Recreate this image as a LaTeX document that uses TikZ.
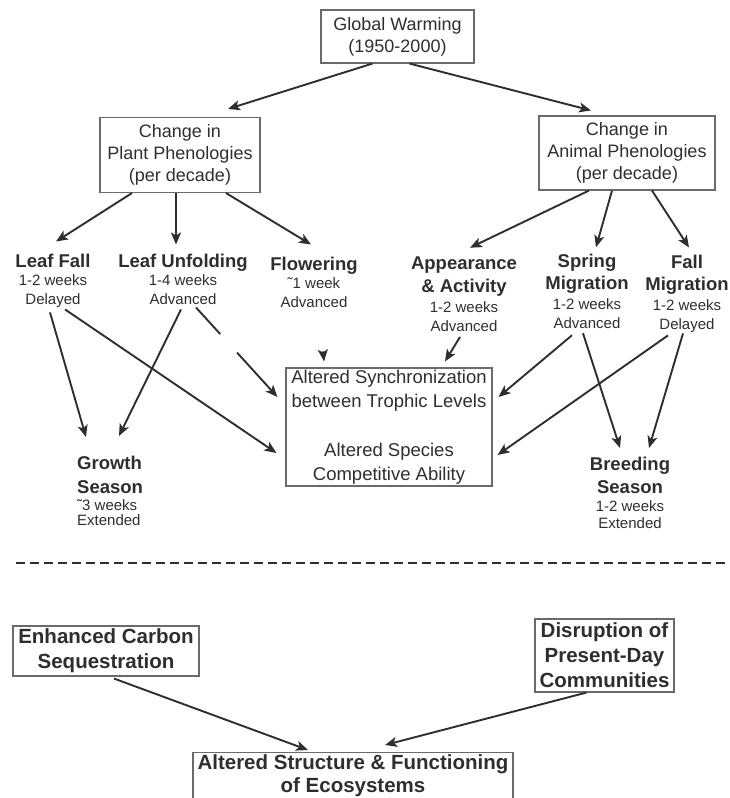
\documentclass[tikz,border=0pt]{standalone}
\usepackage{fontspec}
\setmainfont{Liberation Sans}
\usetikzlibrary{arrows.meta}
\definecolor{ink}{HTML}{2E2E2E}
\definecolor{frame}{HTML}{6A6A6A}
\newcommand{\headfont}{\fontsize{18.5}{22}\selectfont\bfseries}

\begin{document}
\begin{tikzpicture}[x=1pt, y=-1pt, >={Stealth[length=12pt,width=10pt,inset=3pt]},
    box/.style={draw=frame, line width=1.1pt, align=center, text=ink, inner sep=0pt,
      font=\fontsize{18}{22}\selectfont},
    botbox/.style={draw=frame, line width=1.1pt, align=center, text=ink, inner sep=2pt,
      font=\fontsize{20.5}{25}\selectfont\bfseries},
    effect/.style={align=center, text=ink, inner sep=0pt, anchor=north,
      font=\fontsize{15}{19}\selectfont},
    link/.style={->, draw=ink, line width=1.9pt}]
  \useasboundingbox (0,0) rectangle (730,798);

  \node[box, minimum width=153pt, minimum height=53pt] (gw) at (397.5,36.5)
    {Global Warming\\(1950-2000)};
  \node[box, minimum width=160pt, minimum height=75pt] (pp) at (180,155)
    {Change in\\Plant Phenologies\\(per decade)};
  \node[box, minimum width=176pt, minimum height=74pt] (ap) at (627,153)
    {Change in\\Animal Phenologies\\(per decade)};

  \node[effect] (lf) at (53,253.5) {{\headfont Leaf Fall}\\[-1pt]1-2 weeks\\Delayed};
  \node[effect] (lu) at (183,253.5) {{\headfont Leaf Unfolding}\\[-1pt]1-4 weeks\\Advanced};
  \node[effect] (fl) at (314,256.5) {{\headfont Flowering}\\[-1pt]˜1 week\\Advanced};
  \node[effect] (aa) at (464,256.7)
    {{\headfont Appearance}\\[4pt]{\headfont \& Activity}\\[1pt]1-2 weeks\\Advanced};
  \node[effect] (sm) at (587,254.3)
    {{\headfont Spring}\\[3pt]{\headfont Migration}\\[1pt]1-2 weeks\\Advanced};
  \node[effect] (fm) at (687,254.5)
    {{\headfont Fall}\\[3pt]{\headfont Migration}\\[1pt]1-2 weeks\\Delayed};

  \node[box, minimum width=206pt, minimum height=118pt, font=\fontsize{18.5}{24}\selectfont] (sync) at (389,427)
    {Altered Synchronization\\between Trophic Levels\\[25pt]Altered Species\\Competitive Ability};

  \node[effect, anchor=north west, align=left] (gs) at (77,456)
    {{\headfont Growth}\\[5pt]{\headfont Season}\\[-2pt]˜3 weeks\\[-4pt]Extended};
  \node[effect] (bs) at (630,457)
    {{\headfont Breeding}\\[4pt]{\headfont Season}\\[-1pt]1-2 weeks\\[-2pt]Extended};

  \draw[link] ([xshift=-25pt]gw.south) -- ([xshift=48pt,yshift=8pt]pp.north);
  \draw[link] ([xshift=12pt]gw.south) -- ([xshift=-36pt,yshift=5pt]ap.north);
  \draw[link] ([xshift=-48pt]pp.south) -- ([xshift=3pt,yshift=12pt]lf.north);
  \draw[link] ([xshift=-4pt]pp.south) -- ([xshift=-7pt,yshift=9pt]lu.north);
  \draw[link] ([xshift=46pt]pp.south) -- ([xshift=-3pt,yshift=12pt]fl.north);
  \draw[link] ([xshift=-38pt]ap.south) -- ([xshift=6pt,yshift=9pt]aa.north);
  \draw[link] ([xshift=-15pt]ap.south) -- ([xshift=9pt,yshift=7pt]sm.north);
  \draw[link] ([xshift=25pt]ap.south) -- ([xshift=2pt,yshift=7pt]fm.north);

  \draw[link] ([xshift=-3pt,yshift=-5pt]lf.south) -- ([xshift=9pt,yshift=19pt]gs.north west);
  \draw[link] ([xshift=12pt,yshift=-2pt]lf.south) -- ([xshift=-9pt,yshift=-26pt]sync.west);
  \draw[link] ([xshift=-2pt,yshift=-5pt]lu.south) -- ([xshift=42pt,yshift=20pt]gs.north west);
  \draw[link, dash pattern=on 36pt off 25pt on 100pt] ([xshift=13pt,yshift=-3pt]lu.south) -- ([xshift=-8pt,yshift=30pt]sync.west);
  \draw[link] ([xshift=9pt,yshift=-44pt]fl.south) -- ([xshift=-65pt,yshift=6pt]sync.north);
  \draw[link] ([xshift=-4pt,yshift=-5pt]aa.south) -- ([xshift=56pt,yshift=6pt]sync.north);
  \draw[link] ([xshift=-15pt,yshift=-6pt]sm.south) -- ([xshift=6pt,yshift=30pt]sync.east);
  \draw[link] ([xshift=-4pt,yshift=-4pt]sm.south) -- ([xshift=-10pt,yshift=9pt]bs.north);
  \draw[link] ([xshift=-19pt,yshift=-3pt]fm.south) -- ([xshift=5pt,yshift=-28pt]sync.east);
  \draw[link] ([xshift=-4pt,yshift=-1pt]fm.south) -- ([xshift=19pt,yshift=9pt]bs.north);

  \draw[draw=ink, line width=2.2pt, dash pattern=on 9pt off 5pt] (16,563) -- (730,563);

  \node[botbox, minimum width=186pt, minimum height=50pt] (ecs) at (106,651)
    {Enhanced Carbon\\Sequestration};
  \node[botbox, minimum width=139pt, minimum height=73pt] (dpd) at (604.5,655.5)
    {Disruption of\\Present-Day\\Communities};
  \node[botbox, anchor=north, minimum width=320pt, font=\fontsize{20.5}{23}\selectfont\bfseries] (asf) at (353,752)
    {Altered Structure \& Functioning\\of Ecosystems\rule[-12pt]{0pt}{12pt}};

  \draw[link] ([xshift=8pt,yshift=-2pt]ecs.south) -- ([xshift=-45pt,yshift=2pt]asf.north);
  \draw[link] ([xshift=-18pt]dpd.south) -- ([xshift=32pt,yshift=7pt]asf.north);
\end{tikzpicture}
\end{document}
